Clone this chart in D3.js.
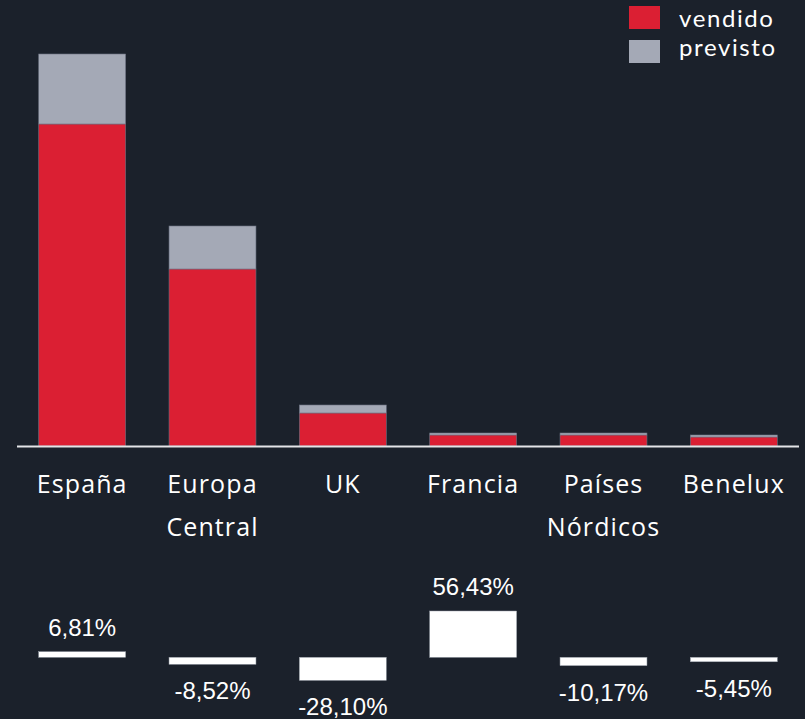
<!DOCTYPE html>
<html>
<head>
<meta charset="utf-8">
<script src="https://cdn.jsdelivr.net/npm/d3@7"></script>
<style>
  html, body { margin: 0; padding: 0; background: #1b212b; }
  svg { display: block; }
</style>
</head>
<body>
<svg id="chart" width="805" height="719"></svg>
<script>
const categories = ["España", "Europa Central", "UK", "Francia", "Países Nórdicos", "Benelux"];
const vendido = [322, 177, 33, 11, 11, 9];
const previsto = [70, 43, 8, 2, 2, 2];
const variation = [6.81, -8.52, -28.10, 56.43, -10.17, -5.45];
const seriesNames = ["vendido", "previsto"];
const seriesColors = ["#db1f33", "#a4a9b6"];

const W = 805, H = 719;
const svg = d3.select("#chart");
svg.append("rect").attr("width", W).attr("height", H).attr("fill", "#1b212b");

const x = d3.scaleBand().domain(categories).range([17, 799]).paddingInner(0.333).paddingOuter(0.1665);
const baseY = 446;
const y = d3.scaleLinear().domain([0, 392]).range([baseY, 54]);

const rows = categories.map((c, i) => ({cat: c, vendido: vendido[i], previsto: previsto[i]}));
const stack = d3.stack().keys(seriesNames)(rows);

svg.append("g").selectAll("g").data(stack).join("g")
  .attr("fill", (d, i) => seriesColors[i])
  .selectAll("rect").data(d => d).join("rect")
  .attr("x", d => x(d.data.cat))
  .attr("width", x.bandwidth())
  .attr("y", d => y(d[1]))
  .attr("height", d => y(d[0]) - y(d[1]))
  .attr("stroke", "#6b7180").attr("stroke-width", 0.6);

// axis
svg.append("line").attr("x1", 17).attr("x2", 799).attr("y1", baseY + 0.5).attr("y2", baseY + 0.5)
  .attr("stroke", "#e4e5e8").attr("stroke-width", 2);

// category labels
const labelFont = "'Open Sans', sans-serif";
const lab = svg.append("g").attr("font-family", labelFont).attr("font-size", 25).attr("fill", "#ffffff")
  .attr("letter-spacing", 1.1).attr("text-anchor", "middle");
categories.forEach(c => {
  const words = c.split(" ");
  const t = lab.append("text").attr("x", x(c) + x.bandwidth() / 2).attr("y", 493);
  words.forEach((w, j) => {
    t.append("tspan").attr("x", x(c) + x.bandwidth() / 2).attr("dy", j === 0 ? 0 : 43).text(w);
  });
});

// variation bars
const vBase = 657.3;
const vy = d3.scaleLinear().domain([0, 56.43]).range([vBase, 611]);
svg.append("g").selectAll("rect").data(variation).join("rect")
  .attr("x", (d, i) => x(categories[i]))
  .attr("width", x.bandwidth())
  .attr("y", d => Math.min(vy(d), vBase))
  .attr("height", d => Math.abs(vy(d) - vBase))
  .attr("fill", "#ffffff").attr("stroke", "#9aa0aa").attr("stroke-width", 0.5);

const fmt = v => v.toFixed(2).replace(".", ",") + "%";
svg.append("g").attr("font-family", "'Liberation Sans', Arial, sans-serif").attr("font-size", 24)
  .attr("fill", "#ffffff").attr("text-anchor", "middle")
  .selectAll("text").data(variation).join("text")
  .attr("x", (d, i) => x(categories[i]) + x.bandwidth() / 2)
  .attr("y", d => d >= 0 ? vy(d) - 16 : vy(d) + 35)
  .text(fmt);

// legend
const lg = svg.append("g");
seriesNames.forEach((s, i) => {
  lg.append("rect").attr("x", 629).attr("y", 6 + i * 34).attr("width", 31).attr("height", 23).attr("fill", seriesColors[i]);
  lg.append("text").attr("x", 679).attr("y", 26.5 + i * 29.5).attr("font-family", "Lato, sans-serif").attr("font-size", 24)
    .attr("letter-spacing", 1.6).attr("fill", "#ffffff").text(s);
});
</script>
</body>
</html>
